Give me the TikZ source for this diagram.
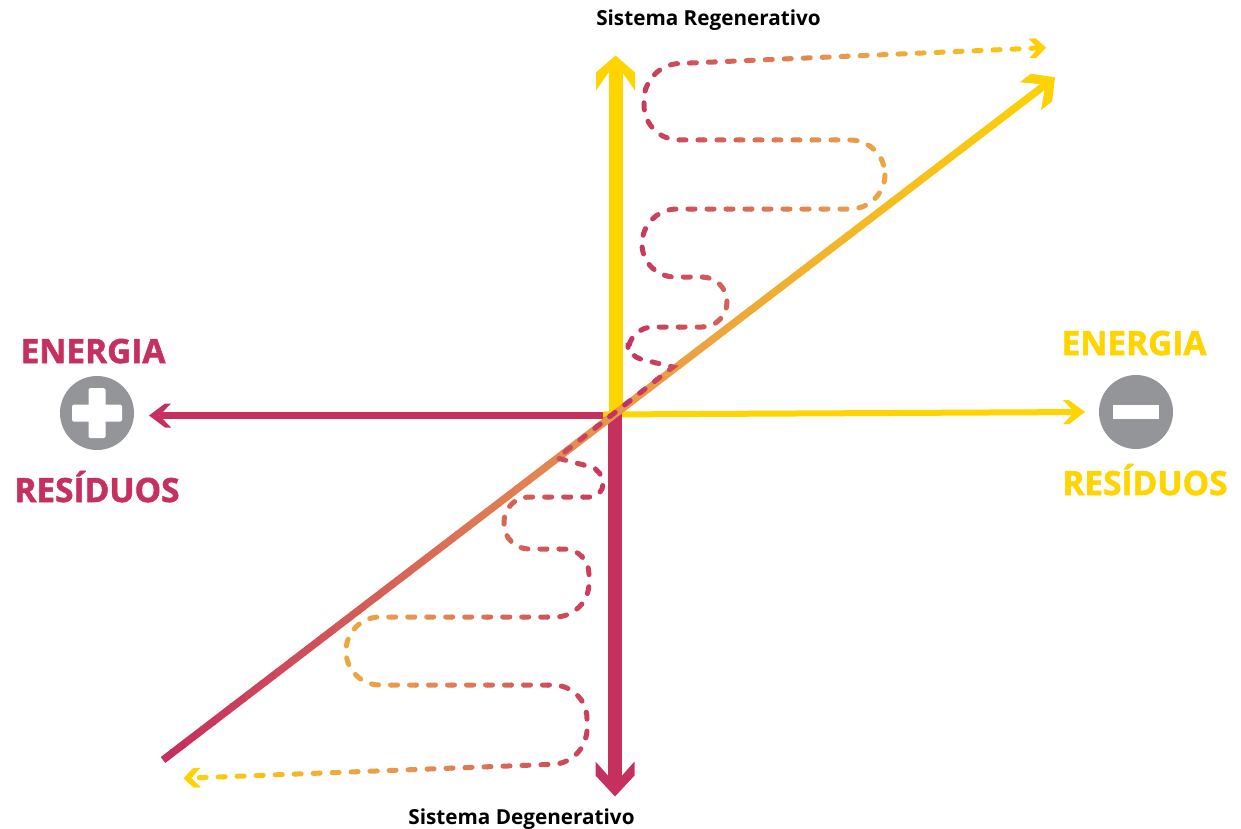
\documentclass[tikz,border=0pt]{standalone}
\usepackage{fontspec}
\setmainfont{Open Sans}
\usepackage{tikz}
\usetikzlibrary{arrows.meta,positioning}
\definecolor{regenyellow}{RGB}{255,212,0}
\definecolor{degencrimson}{RGB}{198,48,94}
\definecolor{midorange}{RGB}{232,152,79}
\definecolor{signgray}{RGB}{147,149,152}
\newfontfamily\headfont[FakeBold=1.6]{Open Sans Bold}
\def\loopline{(1046,47.7) [rounded corners=35pt] -- (644,65) -- (644,140) -- (885,140) -- (885,209)
  -- (642,209) [rounded corners=33pt] -- (642,277) [rounded corners=25pt] -- (727,277) -- (727,327)
  -- (628,327) [rounded corners=13pt] -- (628,356) [sharp corners] -- (673,367) -- (557,458)
  [rounded corners=13pt] -- (603,470) -- (603,497) [rounded corners=25pt] -- (504,497) -- (504,549)
  -- (589,549) [rounded corners=34pt] -- (589,617) -- (346,617) -- (346,685) -- (587,685) -- (587,763) [sharp corners] -- (183.5,778.3)}
% three-stop colour for a strip, #1 runs 0..100
\newcommand{\stripcolor}[1]{%
  \ifnum#1<50
    \pgfmathtruncatemacro{\mixq}{2*#1}\colorlet{stripc}{midorange!\mixq!degencrimson}%
  \else
    \pgfmathtruncatemacro{\mixq}{2*#1-100}\colorlet{stripc}{regenyellow!\mixq!midorange}%
  \fi}
% arrow head with blunt barbs
\newdimen\chevshoulder
\pgfkeys{/pgf/arrow keys/shoulder/.code={\pgfmathsetlength\chevshoulder{#1}}}
\pgfdeclarearrow{
  name=Chevron,
  parameters={\the\pgfarrowlength,\the\pgfarrowwidth,\the\pgfarrowinset,\the\chevshoulder},
  setup code={
    \pgfarrowssettipend{0pt}
    \pgfarrowssetlineend{-\pgfarrowinset}
    \pgfarrowssetvisualbackend{-\pgfarrowlength}
    \pgfarrowssetbackend{-\pgfarrowlength}
    \pgfarrowshullpoint{0pt}{0pt}
    \pgfarrowshullpoint{-\pgfarrowlength}{.5\pgfarrowwidth}
    \pgfarrowshullpoint{-\pgfarrowlength}{-.5\pgfarrowwidth}
    \pgfarrowssavethe\pgfarrowlength
    \pgfarrowssavethe\pgfarrowwidth
    \pgfarrowssavethe\pgfarrowinset
    \pgfarrowssavethe\chevshoulder
  },
  drawing code={
    \pgfpathmoveto{\pgfpointorigin}
    \pgfpathlineto{\pgfpoint{-\chevshoulder}{.5\pgfarrowwidth}}
    \pgfpathlineto{\pgfpoint{-\pgfarrowlength}{.5\pgfarrowwidth}}
    \pgfpathlineto{\pgfpoint{-\pgfarrowinset}{0pt}}
    \pgfpathlineto{\pgfpoint{-\pgfarrowlength}{-.5\pgfarrowwidth}}
    \pgfpathlineto{\pgfpoint{-\chevshoulder}{-.5\pgfarrowwidth}}
    \pgfpathclose
    \pgfusepathqfill
  },
  defaults={length=10pt,width=10pt,inset=5pt,shoulder=5pt}
}
\begin{document}
\begin{tikzpicture}[x=1pt,y=-1pt,>=Stealth,
  bigaxis/.style n args={2}{line width=14pt,-{Chevron[length=35pt,width=39pt,shoulder=#1,inset=#2]}},
  thinaxis/.style={line width=7pt,-{Chevron[length=22pt,width=24pt,shoulder=16pt,inset=10.5pt]}},
  diagaxis/.style={line width=7.5pt,-{Chevron[length=31pt,width=35pt,shoulder=17pt,inset=12pt]}},
  wavy/.style={line width=5pt,dash pattern=on 7pt off 12pt,line cap=round,
    {Chevron[length=17pt,width=19.5pt,shoulder=10pt,inset=8pt]}-{Chevron[length=17pt,width=19.5pt,shoulder=10pt,inset=8pt]}},
  word/.style={font=\headfont\fontsize{33.4}{36}\selectfont,inner sep=0pt,anchor=base},
  caption/.style={font=\bfseries\fontsize{20.7}{22}\selectfont,text=black,inner sep=0pt,anchor=base},
  signdisc/.style={circle,fill=signgray,minimum size=74pt,inner sep=0pt},
  signbar/.style={fill=white,inner sep=0pt}]
  \useasboundingbox (0,0) rectangle (1241,829);
  \coordinate (origin) at (615,414);
  \coordinate (regenroot) at (615.5,414);
  \coordinate (plusroot) at (610,415.5);
  \coordinate (minusroot) at (603,414.5);
  \coordinate (regentip) at (615.5,55.5);
  \coordinate (degentip) at (615,796.5);
  \coordinate (plustip) at (149,415.5);
  \coordinate (minustip) at (1085,412);
  \coordinate (diagstart) at (163,760);
  \coordinate (diagtip) at (1055,77.3);

  \draw[bigaxis={17pt}{7pt},color=regenyellow](regenroot) -- (regentip);
  \draw[thinaxis,color=degencrimson](plusroot) -- (plustip);
  \draw[thinaxis,line width=6pt,color=regenyellow](minusroot) -- (minustip);
  \draw[bigaxis={21pt}{13pt},color=degencrimson](origin) -- (degentip);

  % diagonal, coloured strip by strip
  \foreach \xs in {155,170,...,1055}{
    \pgfmathtruncatemacro{\mixp}{min(100,max(0,(\xs-163)/8.92))}
    \stripcolor{\mixp}
    \begin{scope}
      \clip (\xs,0) rectangle (\xs+16,829);
      \draw[diagaxis,color=stripc](diagstart) -- (diagtip);
    \end{scope}}

  % dashed line, same idea
  \foreach \xs in {175,187,...,1051}{
    \pgfmathtruncatemacro{\mixp}{min(100,abs(\xs-615)/4.32)}
    \stripcolor{\mixp}
    \begin{scope}
      \clip (\xs,0) rectangle (\xs+13,829);
      \draw[wavy,color=stripc] \loopline;
    \end{scope}}

  \node[signdisc](plus) at (97,413) {};
  \node[signbar,rounded corners=1.5pt,minimum width=50pt,minimum height=17pt] (plush) at (plus.center) {};
  \node[signbar,rounded corners=1.5pt,minimum width=17pt,minimum height=50pt] (plusv) at (plus.center) {};
  \node[signdisc](minus) at (1136,412) {};
  \node[signbar,minimum width=46pt,minimum height=14pt] (minush) at (minus.center) {};

  \node[word,text=degencrimson](energyplus) at (93,363) {ENERGIA};
  \node[word,text=degencrimson](wasteplus) at (97,502) {RESÍDUOS};
  \node[word,text=regenyellow](energyminus) at (1134,355) {ENERGIA};
  \node[word,text=regenyellow](wasteminus) at (1145,495) {RESÍDUOS};
  \node[caption](regen) at (708.5,26) {Sistema Regenerativo};
  \node[caption](degen) at (521.5,824) {Sistema Degenerativo};
\end{tikzpicture}
\end{document}
